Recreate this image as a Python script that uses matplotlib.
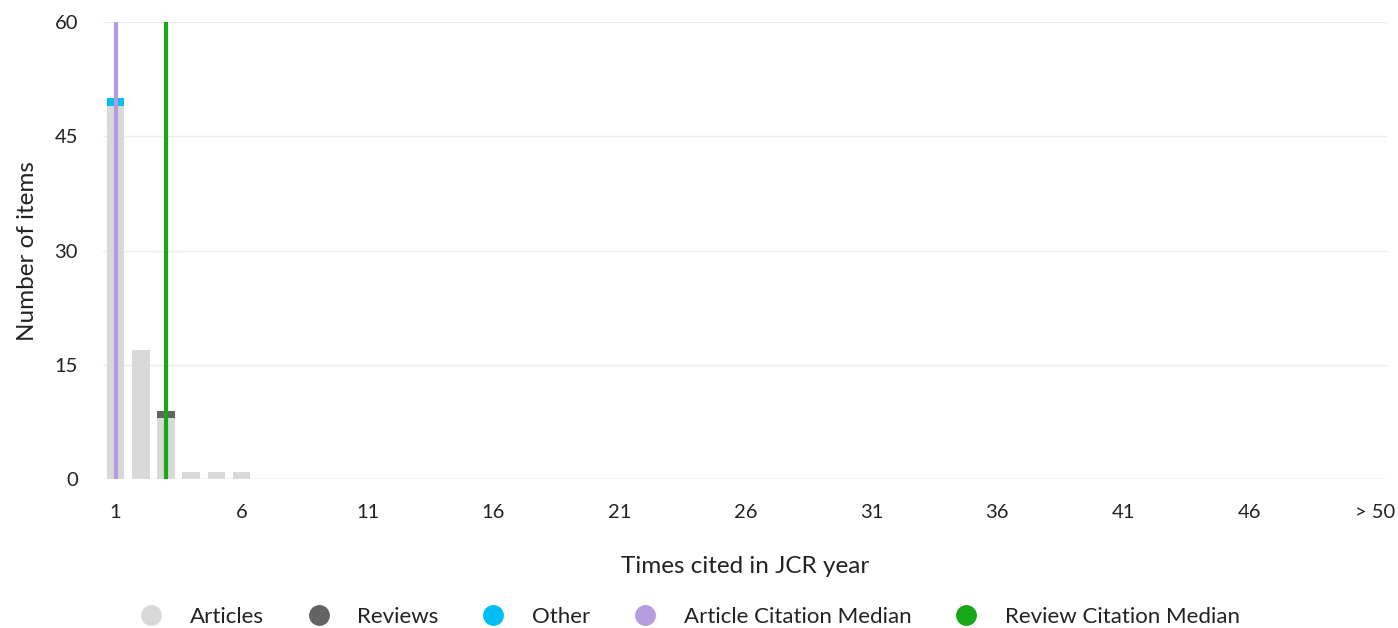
import matplotlib.pyplot as plt
import numpy as np
from matplotlib.lines import Line2D

plt.rcParams['font.family'] = ['Lato', 'DejaVu Sans']

# dados
categorias = [str(i) for i in range(1, 51)] + ['> 50']
artigos = [49, 17, 8, 1, 1, 1] + [0] * 45
revisoes = [0, 0, 1] + [0] * 48
outros = [1] + [0] * 50
mediana_artigos = 1
mediana_revisoes = 3
yticks = [0, 15, 30, 45, 60]

COR_ART = '#d9d9d9'
COR_REV = '#636363'
COR_OUT = '#00bdf2'
COR_MED_ART = '#b39ddf'
COR_MED_REV = '#16a816'

fig = plt.figure(figsize=(13.98, 6.28), dpi=100)
ax = fig.add_axes([0.0737, 0.237, 0.919, 0.728])

x = np.arange(len(categorias))
art = np.array(artigos)
rev = np.array(revisoes)
out = np.array(outros)

ax.bar(x, art, width=0.7, color=COR_ART, zorder=2)
ax.bar(x, rev, width=0.7, bottom=art, color=COR_REV, zorder=2)
ax.bar(x, out, width=0.7, bottom=art + rev, color=COR_OUT, zorder=2)

ax.axvline(categorias.index(str(mediana_artigos)), ymin=0, ymax=1, color=COR_MED_ART, lw=3, zorder=3)
ax.axvline(categorias.index(str(mediana_revisoes)), ymin=0, ymax=1, color=COR_MED_REV, lw=3, zorder=3)

ax.set_xlim(-0.5, len(categorias) - 0.5)
ax.set_ylim(0, 60)
ax.set_yticks(yticks)
ax.set_yticklabels([str(v) for v in yticks], fontsize=14.5, color='#222222')
pos = list(range(0, 50, 5)) + [50]
ax.set_xticks(pos)
ax.set_xticklabels([categorias[p] for p in pos], fontsize=14.5, color='#222222')

for s in ['top', 'bottom', 'left', 'right']:
    ax.spines[s].set_visible(False)
ax.tick_params(axis='both', length=0)
ax.tick_params(axis='x', pad=18)
ax.tick_params(axis='y', pad=18)
ax.grid(axis='y', color='#ececec', lw=1, zorder=0)
ax.axhline(0, color='#e6e6e6', lw=1, zorder=1)

ax.set_xlabel('Times cited in JCR year', fontsize=17.5, color='#222222', labelpad=25)
ax.set_ylabel('Number of items', fontsize=17.5, color='#222222', labelpad=12)

nomes = ['Articles', 'Reviews', 'Other', 'Article Citation Median', 'Review Citation Median']
cores = [COR_ART, COR_REV, COR_OUT, COR_MED_ART, COR_MED_REV]
handles = [Line2D([], [], marker='o', ls='', markersize=14, color=c) for c in cores]
fig.legend(handles, nomes, loc='center', bbox_to_anchor=(0.4895, 0.018), ncol=5,
           frameon=False, fontsize=16, handletextpad=0.75, columnspacing=1.45,
           labelcolor='#222222')

fig.savefig('out.png', dpi=100)
